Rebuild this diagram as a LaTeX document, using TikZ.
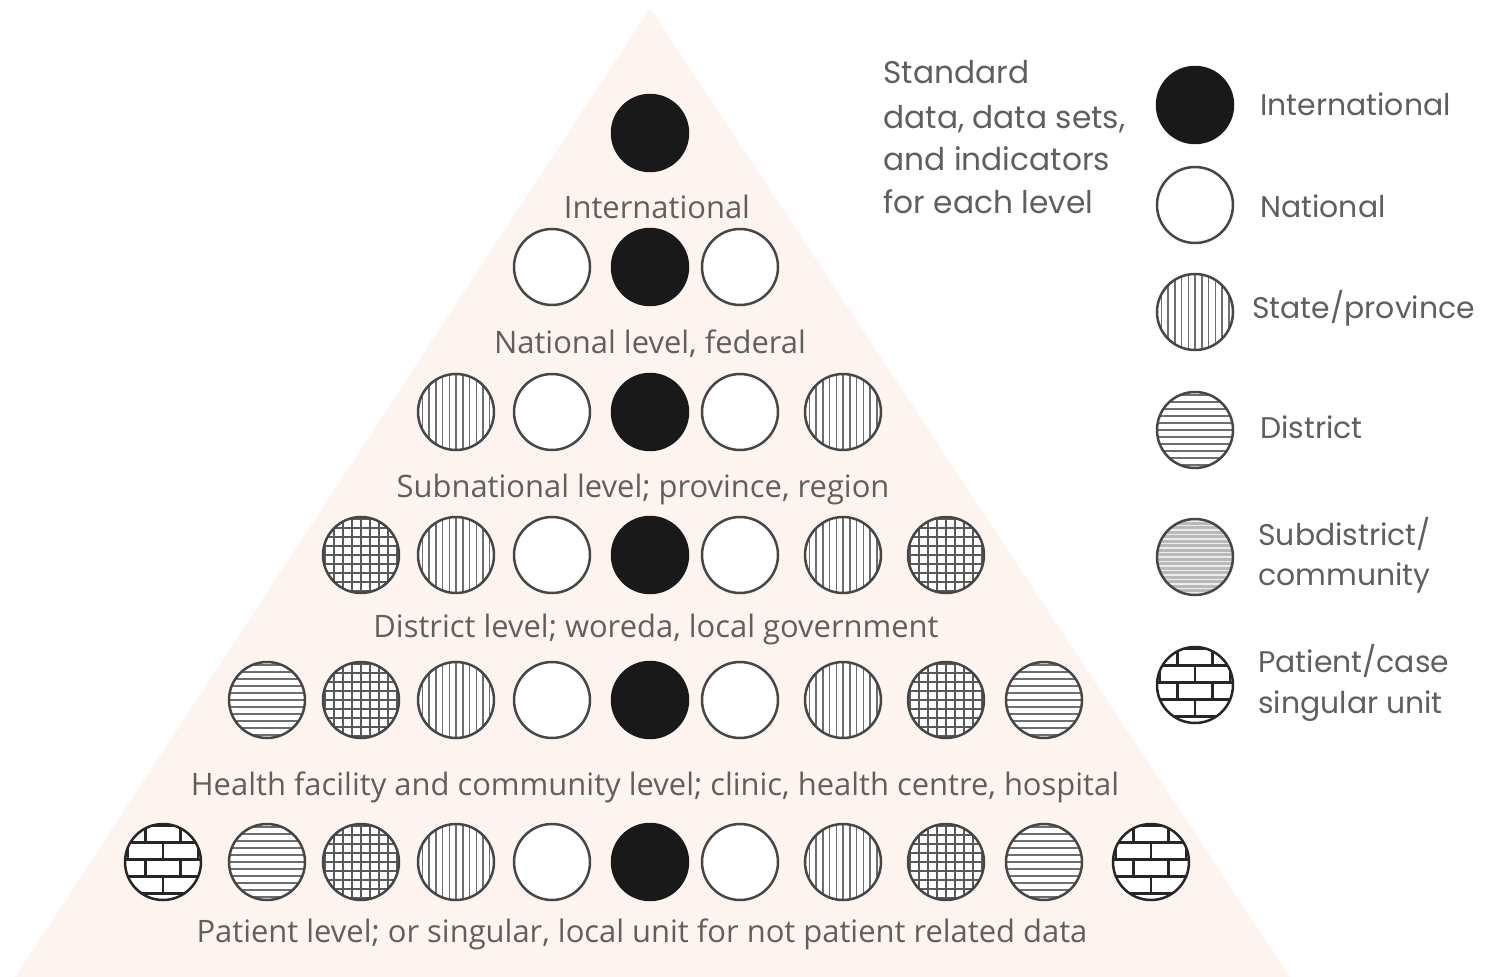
\documentclass[tikz,border=0pt]{standalone}
\usepackage{fontspec}
\setmainfont{Open Sans}
\newfontfamily\legfont{Poppins}
\definecolor{tri}{RGB}{253,244,240}
\definecolor{tgray}{RGB}{95,95,95}
\definecolor{cline}{RGB}{70,70,70}
\definecolor{pline}{RGB}{110,110,110}
\definecolor{gline}{RGB}{90,90,90}
\definecolor{dfill}{RGB}{185,185,185}
\tikzset{
  lvl/.style={circle, minimum size=1.52cm, inner sep=0pt, draw=cline, line width=0.05cm, fill=white},
  blk/.style={lvl, fill=black!90, draw=black!90},
  wht/.style={lvl},
  vrt/.style={lvl, path picture={
      \foreach \i in {-6,...,6}
        \draw[pline, line width=0.03cm] ([xshift=\i*0.135cm]path picture bounding box.north) -- ([xshift=\i*0.135cm]path picture bounding box.south);}},
  hrz/.style={lvl, path picture={
      \foreach \i in {-6,...,6}
        \draw[pline, line width=0.035cm] ([yshift=\i*0.14cm]path picture bounding box.west) -- ([yshift=\i*0.14cm]path picture bounding box.east);}},
  dns/.style={lvl, fill=dfill, path picture={
      \foreach \i in {-9,...,9}
        \draw[white!85!gray, line width=0.025cm] ([yshift=\i*0.09cm]path picture bounding box.west) -- ([yshift=\i*0.09cm]path picture bounding box.east);}},
  grd/.style={lvl, path picture={
      \foreach \i in {-4,...,4}{
        \draw[gline, line width=0.03cm] ([xshift=\i*0.18cm]path picture bounding box.north) -- ([xshift=\i*0.18cm]path picture bounding box.south);
        \draw[gline, line width=0.03cm] ([yshift=\i*0.18cm]path picture bounding box.west) -- ([yshift=\i*0.18cm]path picture bounding box.east);}}},
  brk/.style={lvl, draw=black!85, path picture={
      \foreach \j in {-3,...,3}
        \draw[black!85, line width=0.055cm] ([yshift=\j*0.34cm+0.05cm]path picture bounding box.west) -- ([yshift=\j*0.34cm+0.05cm]path picture bounding box.east);
      \foreach \j in {-3,...,2}{
        \pgfmathsetmacro\off{mod(\j+4,2)*0.35}
        \foreach \k in {-2,...,2}
          \draw[black!85, line width=0.055cm] ([xshift=\off cm+\k*0.7cm, yshift=\j*0.34cm+0.05cm]path picture bounding box.center) -- ++(0,0.34cm);}}},
  lab/.style={text=tgray, font=\fontsize{17.6}{20}\selectfont, anchor=base, inner sep=0pt},
  leg/.style={text=tgray, font=\legfont\fontsize{17}{20}\selectfont, anchor=base west, inner sep=0pt},
  std/.style={leg, font=\legfont\fontsize{17.8}{20}\selectfont}
}
\begin{document}
\begin{tikzpicture}[x=0.02cm, y=-0.02cm]
\useasboundingbox (0,0) rectangle (1488,977);
\fill[white] (0,0) rectangle (1488,977);
\fill[tri] (650,8) -- (1290,977) -- (15,977) -- cycle;

% row 1
\node[blk] (r1c6) at (650,133) {};
\node[lab] (l1) at (657,218) {International};
% row 2
\node[wht] (r2c5) at (552,267) {};
\node[blk] (r2c6) at (650,267) {};
\node[wht] (r2c7) at (740,267) {};
\node[lab] (l2) at (650,353) {National level, federal};
% row 3
\node[vrt] (r3c4) at (456,412) {};
\node[wht] (r3c5) at (552,412) {};
\node[blk] (r3c6) at (650,412) {};
\node[wht] (r3c7) at (740,412) {};
\node[vrt] (r3c8) at (843,412) {};
\node[lab] (l3) at (643,497) {Subnational level; province, region};
% row 4
\node[grd] (r4c3) at (361,555) {};
\node[vrt] (r4c4) at (456,555) {};
\node[wht] (r4c5) at (552,555) {};
\node[blk] (r4c6) at (650,555) {};
\node[wht] (r4c7) at (740,555) {};
\node[vrt] (r4c8) at (843,555) {};
\node[grd] (r4c9) at (946,555) {};
\node[lab] (l4) at (656,637) {District level; woreda, local government};
% row 5
\node[hrz] (r5c2) at (267,700) {};
\node[grd] (r5c3) at (361,700) {};
\node[vrt] (r5c4) at (456,700) {};
\node[wht] (r5c5) at (552,700) {};
\node[blk] (r5c6) at (650,700) {};
\node[wht] (r5c7) at (740,700) {};
\node[vrt] (r5c8) at (843,700) {};
\node[grd] (r5c9) at (946,700) {};
\node[hrz] (r5c10) at (1044,700) {};
\node[lab] (l5) at (655,795) {Health facility and community level; clinic, health centre, hospital};
% row 6
\node[brk] (r6c1) at (163,862) {};
\node[hrz] (r6c2) at (267,862) {};
\node[grd] (r6c3) at (361,862) {};
\node[vrt] (r6c4) at (456,862) {};
\node[wht] (r6c5) at (552,862) {};
\node[blk] (r6c6) at (650,862) {};
\node[wht] (r6c7) at (740,862) {};
\node[vrt] (r6c8) at (843,862) {};
\node[grd] (r6c9) at (946,862) {};
\node[hrz] (r6c10) at (1044,862) {};
\node[brk] (r6c11) at (1151,862) {};
\node[lab] (l6) at (642,942) {Patient level; or singular, local unit for not patient related data};

% legend
\node[std] (t1) at (883,83) {Standard};
\node[std] (t2) at (883,128) {data, data sets,};
\node[std] (t3) at (883,170) {and indicators};
\node[std] (t4) at (883,213) {for each level};

\node[blk] (k1) at (1195,105) {};
\node[wht] (k2) at (1195,205) {};
\node[vrt] (k3) at (1195,312) {};
\node[hrz] (k4) at (1195,430) {};
\node[dns] (k5) at (1195,557) {};
\node[brk] (k6) at (1195,685) {};

\node[leg] (m1) at (1260,115) {International};
\node[leg] (m2) at (1260,217) {National};
\node[leg] (m3) at (1252,318) {State/province};
\node[leg] (m4) at (1260,438) {District};
\node[leg] (m5) at (1258,545) {Subdistrict/};
\node[leg] (m6) at (1258,585) {community};
\node[leg] (m7) at (1258,672) {Patient/case};
\node[leg] (m8) at (1258,713) {singular unit};
\end{tikzpicture}
\end{document}
